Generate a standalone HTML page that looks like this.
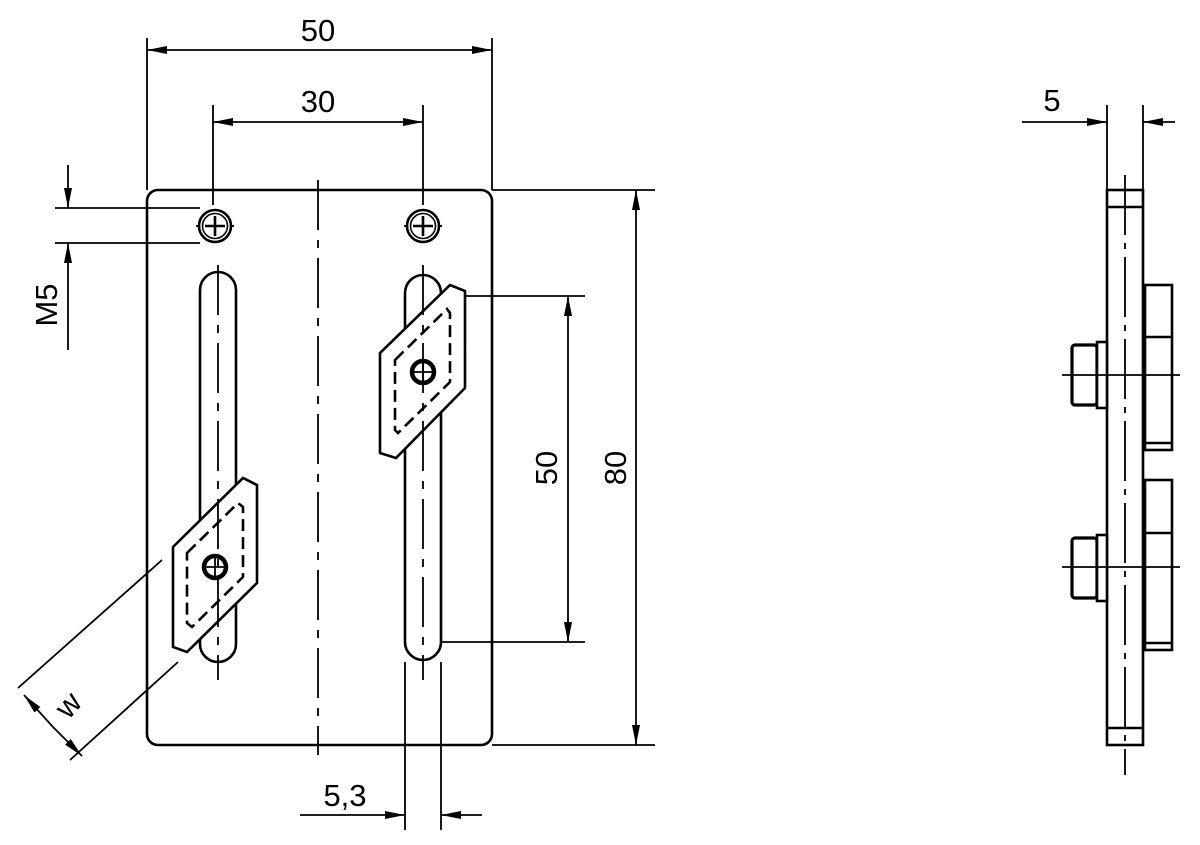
<!DOCTYPE html>
<html><head><meta charset="utf-8"><style>body{margin:0;background:#fff}svg{display:block}</style></head><body>
<svg width="1200" height="845" viewBox="0 0 1200 845" xmlns="http://www.w3.org/2000/svg" font-family="Liberation Sans, sans-serif">
<defs>
<marker id="a" viewBox="0 0 20 8" refX="20" refY="4" markerWidth="20" markerHeight="8" markerUnits="userSpaceOnUse" orient="auto"><path d="M0,0 L20,4 L0,8 Z" fill="#000"/></marker>
</defs>
<g fill="none" stroke="#000" stroke-width="2.6">
<rect x="147" y="190" width="345" height="555" rx="11"/>
<circle cx="215" cy="226" r="16"/><circle cx="215" cy="226" r="12.5" stroke-width="1.6"/>
<circle cx="423" cy="226" r="16"/><circle cx="423" cy="226" r="12.5" stroke-width="1.6"/>
<rect x="200" y="272" width="36" height="390" rx="18"/>
<rect x="405" y="275" width="36" height="385" rx="18"/>
<polygon points="173,547 243,478 257,485 257,583 187,652 173,647" fill="#fff"/>
<polygon points="380,353 450,285 465,291 465,388 396,458 380,453" fill="#fff"/>
<g stroke-dasharray="12,6">
<polygon points="187,553 238,503 243,507 243,577 192,627 187,623"/>
<polygon points="395,360 447,309 450,313 450,382 398,433 395,430"/>
</g>
<circle cx="215" cy="567" r="11" stroke-width="4.5"/>
<circle cx="423" cy="372" r="11" stroke-width="4.5"/>
</g>
<g stroke="#000" stroke-width="1.8" fill="none">
<g stroke-dasharray="50,10,8,10">
<line x1="318" y1="180" x2="318" y2="755"/>
<line x1="218" y1="265" x2="218" y2="680"/>
<line x1="423" y1="265" x2="423" y2="680"/>
</g>
<g stroke-width="2.6">
<line x1="205" y1="226" x2="225" y2="226"/><line x1="215" y1="216" x2="215" y2="236"/>
<line x1="413" y1="226" x2="433" y2="226"/><line x1="423" y1="216" x2="423" y2="236"/>
</g>
<line x1="196" y1="226" x2="200" y2="226"/><line x1="230" y1="226" x2="234" y2="226"/>
<line x1="404" y1="226" x2="408" y2="226"/><line x1="438" y1="226" x2="442" y2="226"/>
<line x1="202" y1="567" x2="228" y2="567"/><line x1="215" y1="554" x2="215" y2="580"/>
<line x1="410" y1="372" x2="436" y2="372"/><line x1="423" y1="359" x2="423" y2="385"/>
<line x1="147" y1="38" x2="147" y2="190"/><line x1="492" y1="38" x2="492" y2="190"/>
<line x1="320" y1="50" x2="147" y2="50" marker-end="url(#a)"/><line x1="320" y1="50" x2="492" y2="50" marker-end="url(#a)"/>
<line x1="213" y1="105" x2="213" y2="205"/><line x1="423" y1="105" x2="423" y2="205"/>
<line x1="318" y1="122" x2="213" y2="122" marker-end="url(#a)"/><line x1="318" y1="122" x2="423" y2="122" marker-end="url(#a)"/>
<line x1="55" y1="208" x2="200" y2="208"/><line x1="55" y1="243" x2="200" y2="243"/>
<line x1="68" y1="165" x2="68" y2="208" marker-end="url(#a)"/><line x1="68" y1="350" x2="68" y2="243" marker-end="url(#a)"/>
<line x1="492" y1="190" x2="655" y2="190"/><line x1="492" y1="745" x2="655" y2="745"/>
<line x1="636" y1="468" x2="636" y2="190" marker-end="url(#a)"/><line x1="636" y1="468" x2="636" y2="745" marker-end="url(#a)"/>
<line x1="465" y1="296" x2="585" y2="296"/><line x1="441" y1="642" x2="585" y2="642"/>
<line x1="568" y1="468" x2="568" y2="296" marker-end="url(#a)"/><line x1="568" y1="468" x2="568" y2="642" marker-end="url(#a)"/>
<line x1="405" y1="662" x2="405" y2="830"/><line x1="441" y1="662" x2="441" y2="830"/>
<line x1="300" y1="815" x2="405" y2="815" marker-end="url(#a)"/><line x1="482" y1="815" x2="441" y2="815" marker-end="url(#a)"/>
<line x1="162" y1="560" x2="18" y2="688"/><line x1="178" y1="662" x2="70" y2="760"/>
<line x1="53" y1="727" x2="24" y2="695" marker-end="url(#a)"/><line x1="53" y1="727" x2="82" y2="756" marker-end="url(#a)"/>
<line x1="1107" y1="105" x2="1107" y2="190"/><line x1="1143" y1="105" x2="1143" y2="190"/>
<line x1="1022" y1="122" x2="1107" y2="122" marker-end="url(#a)"/><line x1="1175" y1="122" x2="1143" y2="122" marker-end="url(#a)"/>
</g>
<g fill="#fff" stroke="#000" stroke-width="2.6">
<rect x="1107" y="190" width="36" height="555"/>
<line x1="1107" y1="207" x2="1143" y2="207"/><line x1="1107" y1="728" x2="1143" y2="728"/>
<rect x="1145" y="285" width="27" height="165"/><line x1="1145" y1="337" x2="1172" y2="337"/><line x1="1145" y1="443" x2="1172" y2="443"/>
<rect x="1145" y="480" width="27" height="170"/><line x1="1145" y1="533" x2="1172" y2="533"/><line x1="1145" y1="643" x2="1172" y2="643"/>
<rect x="1072" y="345" width="25" height="60" rx="3" stroke-width="3.2"/><rect x="1097" y="342" width="10" height="66"/>
<rect x="1072" y="538" width="25" height="60" rx="3" stroke-width="3.2"/><rect x="1097" y="535" width="10" height="66"/>
</g>
<g stroke="#000" stroke-width="1.8" fill="none">
<line x1="1125" y1="175" x2="1125" y2="775" stroke-dasharray="60,8,6,8"/>
<line x1="1062" y1="375" x2="1180" y2="375"/><line x1="1062" y1="567" x2="1180" y2="567"/>
</g>
<g font-size="31" fill="#000" text-anchor="middle">
<text x="318" y="41">50</text>
<text x="318" y="112">30</text>
<text x="345" y="806">5,3</text>
<text x="1052" y="111">5</text>
<text transform="translate(57,305) rotate(-90)">M5</text>
<text transform="translate(557,468) rotate(-90)">50</text>
<text transform="translate(626,468) rotate(-90)">80</text>
<text transform="translate(76,712) rotate(-48)">w</text>
</g>
</svg>
</body></html>
